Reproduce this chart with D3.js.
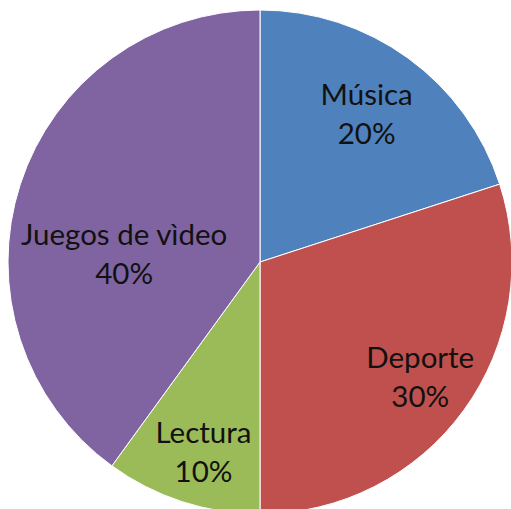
<!DOCTYPE html>
<html>
<head>
<meta charset="utf-8">
<script src="https://cdn.jsdelivr.net/npm/d3@7"></script>
<style>
  html, body { margin: 0; padding: 0; background: #fff; }
</style>
</head>
<body>
<script>
var categories = ["Música", "Deporte", "Lectura", "Juegos de vìdeo"];
var values = [20, 30, 10, 40];
var percentLabels = ["20%", "30%", "10%", "40%"];
var colors = ["#4F81BD", "#C0504D", "#9BBB59", "#8064A2"];

var width = 511, height = 509;
var cx = 260, cy = 262, radius = 252;

// label placement (radius fraction, angle shift in degrees), like excel best fit
var labelPlace = [
    {r: 0.72, shift: 0},
    {r: 0.786, shift: 0},
    {r: 0.79, shift: -1.5},
    {r: 0.54, shift: -15}
];

var svg = d3.select("body").append("svg")
    .attr("width", width)
    .attr("height", height)

var g = svg.append("g")
    .attr("transform", "translate(" + cx + "," + cy + ")")

var pie = d3.pie().sort(null).value(function(d) { return d; });
var arc = d3.arc().innerRadius(0).outerRadius(radius);
var arcs = pie(values);

g.selectAll("path.slice")
    .data(arcs)
    .enter().append("path")
    .attr("class", "slice")
    .attr("d", arc)
    .attr("fill", function(d, i) { return colors[i]; })
    .attr("stroke", "#fff")
    .attr("stroke-width", 1)

var labels = g.selectAll("text.lbl")
    .data(arcs)
    .enter().append("text")
    .attr("class", "lbl")
    .attr("text-anchor", "middle")
    .style("font-family", "Lato, 'Open Sans', sans-serif")
    .style("font-size", "29.5px")
    .attr("fill", "#111")
    .attr("transform", function(d, i) {
        var p = labelPlace[i];
        var a = (d.startAngle + d.endAngle) / 2 + p.shift * Math.PI / 180;
        var r = radius * p.r;
        return "translate(" + (r * Math.sin(a)) + "," + (-r * Math.cos(a)) + ")";
    })

labels.append("tspan")
    .attr("x", 0)
    .attr("y", -10)
    .text(function(d, i) { return categories[i]; })

labels.append("tspan")
    .attr("x", 0)
    .attr("y", 29)
    .text(function(d, i) { return percentLabels[i]; })
</script>
</body>
</html>
